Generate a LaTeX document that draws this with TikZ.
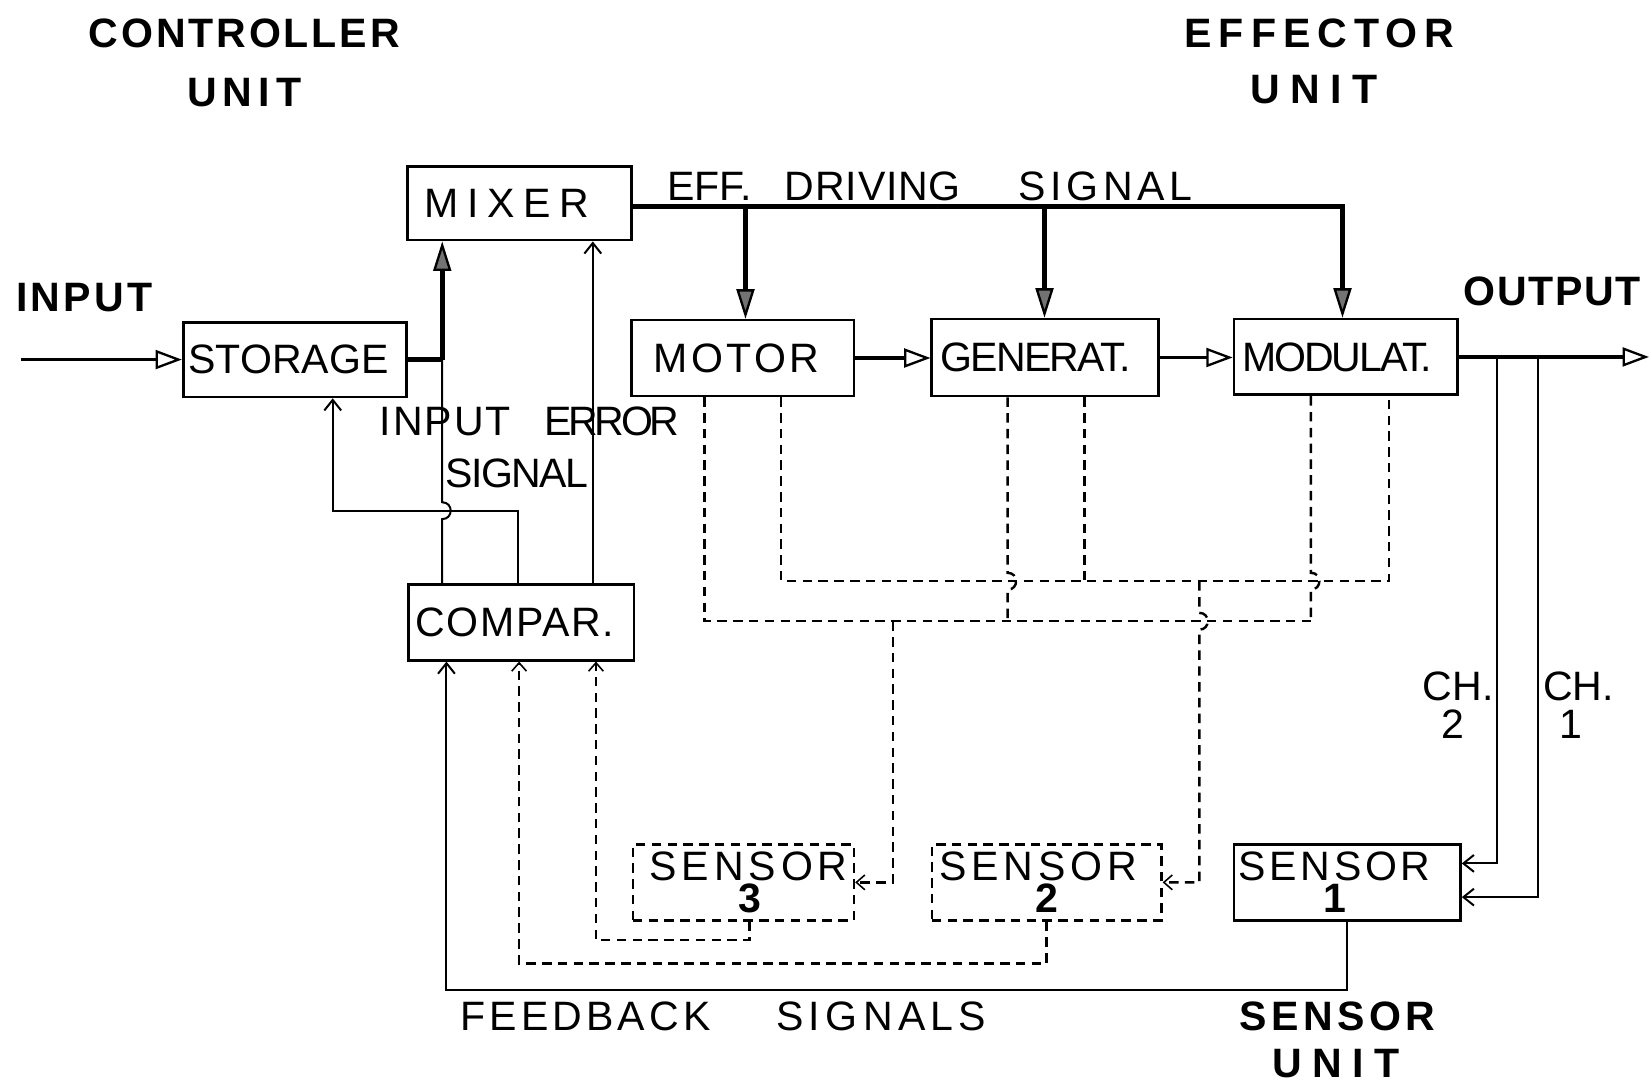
\documentclass[tikz,border=0pt]{standalone}
\usepackage{fontspec}
\setmainfont{Liberation Sans}
\usetikzlibrary{arrows.meta}
\newcommand\lsp[1]{\addfontfeatures{LetterSpace=#1}}
\newcommand\fs{\fontsize{19.5}{15}\selectfont}
\newcommand\fss{\fontsize{19.5}{15.2}\selectfont}
\tikzset{
  x=0.5pt,y=-0.5pt,
  box/.style={draw,line width=1.3pt,inner sep=0pt,font=\fs,align=center},
  sbox/.style={box,font=\fss},
  dbox/.style={sbox,line width=1.2pt,dash pattern=on 4.5pt off 3pt},
  lbl/.style={inner sep=0pt,font=\fs},
  ttl/.style={inner sep=0pt,font=\fs\bfseries},
  thinln/.style={line width=0.95pt},
  medln/.style={line width=1.5pt},
  thickln/.style={line width=2.4pt,line join=miter},
  dashln/.style={line width=1.15pt,dash pattern=on 4.5pt off 3pt},
  barb/.style={-{Straight Barb[length=5pt,width=8pt,line width=0.95pt]}},
  dbarb/.style={-{Straight Barb[length=4pt,width=7pt,line width=0.75pt]}},
  otri/.style={-{Triangle[open,length=12.5pt,width=9pt,line width=1.1pt]}},
  ftri/.style={-{Triangle[length=14pt,width=8.5pt,fill=black!55,line width=1.1pt]}},
}
\begin{document}
\begin{tikzpicture}
\useasboundingbox (0,0) rectangle (1568,1029);

% ---------- titles ----------
\node[ttl] (ctrlA) at (232,32) {\lsp{7}CONTROLLER};
\node[ttl] (ctrlB) at (232,88) {\lsp{15}UNIT};
\node[ttl] (effA) at (1253,32) {\lsp{17}EFFECTOR};
\node[ttl] (effB) at (1248,85) {\lsp{26}UNIT};
\node[ttl] (inlbl) at (80,283) {\lsp{8}INPUT};
\node[ttl] (outlbl) at (1474,277) {\lsp{4}OUTPUT};
\node[ttl] (senA) at (1270,965) {\lsp{11}SENSOR};
\node[ttl] (senB) at (1269,1010) {\lsp{25}UNIT};

% ---------- boxes ----------
\node[box,minimum width=106.5pt,minimum height=35pt] (mixer) at (493.5,193) {\lsp{21}\hspace*{-12pt}MIXER};
\node[box,minimum width=106pt,minimum height=35.5pt] (storage) at (280,341.5) {\hspace*{-6pt}STORAGE};
\node[box,minimum width=105.5pt,minimum height=36pt] (motor) at (705.5,340) {\lsp{8}\hspace*{-6pt}MOTOR};
\node[box,minimum width=107.5pt,minimum height=36.5pt] (generat) at (992.5,339.5) {\lsp{-4}\hspace*{-9pt}GENERAT.};
\node[box,minimum width=106pt,minimum height=36pt] (modulat) at (1278,339) {\lsp{-5}\hspace*{-8pt}MODULAT.};
\node[box,minimum width=107pt,minimum height=36pt] (compar) at (495,591) {\lsp{4}\hspace*{-6pt}COMPAR.};
\node[dbox,minimum width=105pt,minimum height=36pt] (sensor3) at (706,838) {{\lsp{12}SENSOR}\hspace*{-5pt}\\{\bfseries 3}\hspace*{-6pt}};
\node[dbox,minimum width=109pt,minimum height=36pt] (sensor2) at (994,838) {\hspace*{-8pt}{\lsp{12}SENSOR}\\{\bfseries 2}};
\node[sbox,minimum width=107.5pt,minimum height=36pt] (sensor1) at (1279.5,838) {\hspace*{-12pt}{\lsp{9}SENSOR}\\\hspace*{-12pt}{\bfseries 1}};

% ---------- other labels ----------
\node[lbl] (ieA) at (423,400) {\lsp{5}INPUT};
\node[lbl] (ieB) at (581,400) {\lsp{-8}ERROR};
\node[lbl] (ieC) at (491,450) {\lsp{-4}SIGNAL};
\node[lbl] (edA) at (674,177) {\lsp{0}EFF.};
\node[lbl] (edB) at (829,177) {\lsp{2}DRIVING};
\node[lbl] (edC) at (1050,177) {\lsp{11}SIGNAL};
\node[lbl] (ch2a) at (1385,652) {CH.};
\node[lbl] (ch2b) at (1380,688) {2};
\node[lbl] (ch1a) at (1499,652) {CH.};
\node[lbl] (ch1b) at (1492,688) {1};
\node[lbl] (fbA) at (556,965) {\lsp{10}FEEDBACK};
\node[lbl] (fbB) at (837,965) {\lsp{13}SIGNALS};

% ---------- coordinates ----------
\coordinate (in0) at (20,341.5);
\coordinate (j1) at (420,341.5);
\coordinate (b1) at (492,485);
\coordinate (b2) at (316,485);
\coordinate (c1) at (563,450);
\coordinate (d1) at (708,196);
\coordinate (d2) at (992,196);
\coordinate (d3) at (1275,196);
\coordinate (out) at (1566,339);
\coordinate (o2) at (1422,339);
\coordinate (o1) at (1461,339);
\coordinate (e2) at (1422,820);
\coordinate (e1) at (1461,852);
\coordinate (f1) at (424,940);
\coordinate (g3a) at (712,893);
\coordinate (g3) at (566,893);
\coordinate (g2) at (493,915);
\coordinate (L1) at (669,590);
\coordinate (L3) at (1245,590);
\coordinate (U1) at (742,552);
\coordinate (U3) at (1319,552);
\coordinate (G1) at (957,590);
\coordinate (G2) at (1030,552);
\coordinate (s3a) at (848,590);
\coordinate (s3b) at (848,838);
\coordinate (s2a) at (1139,552);
\coordinate (s2b) at (1139,838);

% ---------- controller connectors ----------
\draw[medln,otri] (in0) -- (storage.west);
\draw[thickln] (storage.east) -- (j1);
\draw[thickln,ftri] (j1) -- (mixer.south -| j1);
\draw[thinln] (compar.north -| j1) -- (420,493) .. controls (430.7,493) and (430.7,477) .. (420,477) -- (j1);
\draw[thinln,barb] (compar.north -| b1) -- (b1) -- (b2) -- (storage.south -| b2);
\draw[thinln,barb] (compar.north -| c1) -- (mixer.south -| c1);

% ---------- effector driving signal ----------
\draw[thickln,ftri] (mixer.east |- d1) -- (d3) -- (modulat.north -| d3);
\draw[thickln,ftri] (d1) -- (motor.north -| d1);
\draw[thickln,ftri] (d2) -- (generat.north -| d2);
\draw[line width=2.2pt,otri] (motor.east) -- (generat.west |- motor.east);
\draw[medln,otri] (generat.east) -- (modulat.west |- generat.east);
\draw[line width=1.9pt,otri] (modulat.east) -- (out);

% ---------- channels to sensor 1 ----------
\draw[thinln,barb] (o2) -- (e2) -- (sensor1.east |- e2);
\draw[thinln,barb] (o1) -- (e1) -- (sensor1.east |- e1);

% ---------- feedback ----------
\draw[thinln,barb] (sensor1.south) |- (f1) -- (compar.south -| f1);
\draw[dashln,dbarb] (sensor3.south -| g3a) -- (g3a) -- (g3) -- (compar.south -| g3);
\draw[dashln,dbarb] (sensor2.south) |- (g2) -- (compar.south -| g2);

% ---------- dashed sensing network ----------
\draw[dashln] (motor.south -| L1) -- (L1) -- (L3);
\draw[dashln] (motor.south -| U1) -- (U1) -- (U3) -- (modulat.south -| U3);
\draw[dashln] (modulat.south -| L3) -- (1245,544) .. controls (1255.7,544) and (1255.7,560) .. (1245,560) -- (L3);
\draw[dashln] (generat.south -| G1) -- (957,544) .. controls (967.7,544) and (967.7,560) .. (957,560) -- (G1);
\draw[dashln] (generat.south -| G2) -- (G2);
\draw[dashln,dbarb] (s3a) -- (s3b) -- (sensor3.east |- s3b);
\draw[dashln,dbarb] (s2a) -- (1139,582) .. controls (1149.7,582) and (1149.7,598) .. (1139,598) -- (s2b) -- (sensor2.east |- s2b);
\end{tikzpicture}
\end{document}
